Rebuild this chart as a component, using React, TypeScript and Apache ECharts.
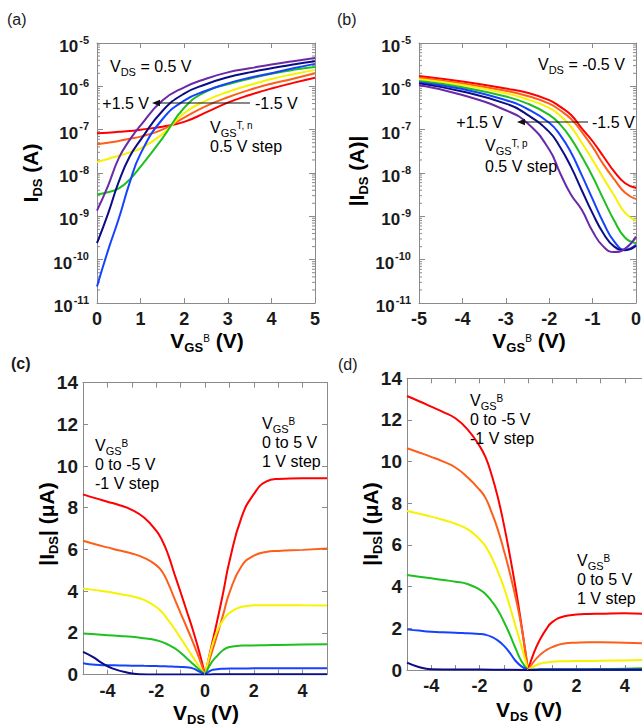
import React, { useEffect, useRef } from 'react';
import * as echarts from 'echarts';

const FONT = '"Liberation Sans", Arial, Helvetica, sans-serif';
const AXIS = '#8a8a8a';
const TXT = '#1a1a1a';
const C = {
  red: '#ff0000',
  orange: '#ff5e1a',
  yellow: '#f6f200',
  green: '#1ec01e',
  blue: '#1442ff',
  navy: '#0c0c86',
  purple: '#6a2aa8',
};

// ---------- panel (a): I_DS vs V_GS^B, V_DS = 0.5 V ----------
const aVgs = [0, 0.25, 0.5, 0.75, 1, 1.5, 2, 2.5, 3, 3.5, 4, 4.5, 5];
const aRed = [8.3e-8, 8.5e-8, 8.9e-8, 9.3e-8, 1.0e-7, 1.17e-7, 1.51e-7, 2.5e-7, 4.2e-7, 6.3e-7, 8.9e-7, 1.2e-6, 1.58e-6];
const aOrange = [4.6e-8, 5.0e-8, 5.5e-8, 6.2e-8, 6.9e-8, 1.0e-7, 1.9e-7, 3.5e-7, 5.6e-7, 8.3e-7, 1.15e-6, 1.5e-6, 2.0e-6];
const aYellow = [1.8e-8, 2.1e-8, 2.5e-8, 3.0e-8, 3.7e-8, 7.9e-8, 2.4e-7, 4.7e-7, 7.4e-7, 1.07e-6, 1.48e-6, 1.9e-6, 2.4e-6];
const aGreen = [3.2e-9, 3.6e-9, 4.4e-9, 7.1e-9, 1.4e-8, 6.3e-8, 3.2e-7, 7.6e-7, 1.12e-6, 1.5e-6, 1.95e-6, 2.4e-6, 2.8e-6];
const aBlue = [2.4e-11, 1.6e-10, 8.9e-10, 6.0e-9, 2.8e-8, 1.74e-7, 4.7e-7, 7.9e-7, 1.17e-6, 1.58e-6, 2.0e-6, 2.6e-6, 3.3e-6];
const aNavy = [2.4e-10, 1.12e-9, 6.3e-9, 2.4e-8, 5.8e-8, 2.7e-7, 6.8e-7, 1.12e-6, 1.62e-6, 2.1e-6, 2.6e-6, 3.2e-6, 3.8e-6];
const aPurple = [1.35e-9, 5.0e-9, 2.2e-8, 5.8e-8, 1.26e-7, 4.7e-7, 9.5e-7, 1.5e-6, 2.1e-6, 2.6e-6, 3.2e-6, 3.8e-6, 4.5e-6];

// ---------- panel (b): |I_DS| vs V_GS^B, V_DS = -0.5 V ----------
const bVgs = [-5, -4, -3, -2.5, -2, -1.75, -1.5, -1.25, -1, -0.75, -0.5, -0.25, 0];
const bRed = [1.74e-6, 1.29e-6, 8.9e-7, 7.1e-7, 4.8e-7, 3.4e-7, 2.2e-7, 1.07e-7, 5.4e-8, 2.4e-8, 1.07e-8, 5.8e-9, 4.5e-9];
const bOrange = [1.58e-6, 1.17e-6, 7.9e-7, 6.0e-7, 4.0e-7, 2.8e-7, 1.78e-7, 8.9e-8, 4.0e-8, 1.58e-8, 7.1e-9, 3.5e-9, 2.5e-9];
const bYellow = [1.45e-6, 1.07e-6, 6.9e-7, 5.0e-7, 3.2e-7, 2.1e-7, 1.17e-7, 5.0e-8, 2.0e-8, 7.6e-9, 3.0e-9, 1.2e-9, 7.9e-10];
const bGreen = [1.32e-6, 9.5e-7, 5.8e-7, 4.0e-7, 2.2e-7, 1.32e-7, 6.3e-8, 2.4e-8, 8.3e-9, 2.5e-9, 7.9e-10, 3.2e-10, 2.4e-10];
const bBlue = [1.23e-6, 8.7e-7, 4.8e-7, 3.0e-7, 1.45e-7, 7.6e-8, 3.0e-8, 8.9e-9, 2.5e-9, 7.1e-10, 2.6e-10, 1.7e-10, 2.2e-10];
const bNavy = [1.17e-6, 7.6e-7, 4.0e-7, 2.2e-7, 8.9e-8, 4.0e-8, 1.4e-8, 4.0e-9, 1.17e-9, 4.0e-10, 2.0e-10, 1.66e-10, 2.1e-10];
const bPurple = [1.07e-6, 6.3e-7, 2.8e-7, 1.41e-7, 3.5e-8, 1.0e-8, 3.2e-9, 1.41e-9, 4.5e-10, 2.0e-10, 1.5e-10, 1.8e-10, 3.4e-10];

// ---------- panel (c): |I_DS| (uA) vs V_DS ----------
const cVleft = [-5, -4.5, -4, -3.5, -3, -2.5, -2, -1.75, -1.5, -1.25, -1, -0.75, -0.5, -0.25, 0];
const cVright = [0, 0.25, 0.5, 0.75, 1, 1.5, 2, 2.5, 3, 4, 5];
const cRedL = [8.64, 8.46, 8.29, 8.12, 7.9, 7.53, 6.9, 6.42, 5.72, 4.82, 3.95, 3.05, 2.15, 1.15, 0];
const cOrangeL = [6.42, 6.25, 6.1, 5.95, 5.81, 5.6, 5.25, 4.93, 4.35, 3.64, 2.95, 2.27, 1.57, 0.82, 0];
const cYellowL = [4.13, 4.05, 3.97, 3.86, 3.76, 3.58, 3.24, 2.97, 2.6, 2.2, 1.75, 1.3, 0.85, 0.4, 0];
const cGreenL = [1.97, 1.93, 1.89, 1.85, 1.81, 1.74, 1.65, 1.56, 1.43, 1.27, 1.05, 0.78, 0.52, 0.26, 0];
const cBlueL = [0.54, 0.47, 0.45, 0.44, 0.43, 0.42, 0.41, 0.4, 0.39, 0.38, 0.37, 0.35, 0.3, 0.16, 0];
const cNavyLV = [-5, -4.6, -4.2, -3.8, -3.2, -2.7, -2, -1, 0];
const cNavyL = [1.09, 0.85, 0.54, 0.3, 0.1, 0.02, 0.01, 0.01, 0];
const cRedR = [0, 1.29, 2.58, 3.96, 5.42, 7.55, 8.65, 9.25, 9.38, 9.42, 9.42];
const cOrangeR = [0, 0.95, 1.9, 2.9, 3.92, 5.21, 5.7, 5.88, 5.93, 5.98, 6.04];
const cYellowR = [0, 1.2, 2.1, 2.62, 2.95, 3.25, 3.32, 3.33, 3.33, 3.32, 3.31];
const cGreenR = [0, 0.55, 0.9, 1.18, 1.32, 1.39, 1.4, 1.41, 1.42, 1.44, 1.46];
const cBlueR = [0, 0.2, 0.26, 0.28, 0.29, 0.29, 0.3, 0.3, 0.3, 0.3, 0.3];
const cNavyR = [0, 0.01, 0.02, 0.02, 0.02, 0.02, 0.02, 0.02, 0.02, 0.02, 0.02];

// ---------- panel (d): |I_DS| (uA) vs V_DS ----------
const dVleft = [-5, -4.5, -4, -3.5, -3, -2.5, -2, -1.75, -1.5, -1.25, -1, -0.75, -0.5, -0.25, 0];
const dVright = [0, 0.25, 0.5, 0.75, 1, 1.5, 2, 2.5, 3, 4, 5];
const dRedL = [13.15, 12.9, 12.64, 12.38, 12.08, 11.55, 10.75, 10.2, 9.35, 8.3, 7.0, 5.5, 3.85, 2.0, 0];
const dOrangeL = [10.64, 10.44, 10.23, 10.0, 9.72, 9.25, 8.65, 8.25, 7.55, 6.75, 5.75, 4.65, 3.42, 1.95, 0];
const dYellowL = [7.63, 7.5, 7.36, 7.2, 7.02, 6.76, 6.28, 5.93, 5.4, 4.75, 3.97, 3.05, 2.05, 1.05, 0];
const dGreenL = [4.56, 4.48, 4.4, 4.32, 4.24, 4.13, 3.86, 3.64, 3.3, 2.88, 2.33, 1.7, 1.0, 0.38, 0];
const dBlueL = [1.95, 1.89, 1.84, 1.81, 1.79, 1.76, 1.73, 1.69, 1.59, 1.42, 1.17, 0.82, 0.42, 0.16, 0];
const dNavyLV = [-5, -4.55, -4, -3, -2, -1, 0];
const dNavyL = [0.35, 0.16, 0.04, 0.02, 0.02, 0.01, 0];
const dRedR = [0, 0.85, 1.47, 1.95, 2.3, 2.58, 2.66, 2.69, 2.7, 2.72, 2.68];
const dOrangeR = [0, 0.42, 0.73, 0.95, 1.1, 1.27, 1.31, 1.33, 1.33, 1.31, 1.28];
const dYellowR = [0, 0.18, 0.3, 0.36, 0.4, 0.42, 0.43, 0.43, 0.44, 0.46, 0.48];
const dGreenR = [0, 0.02, 0.03, 0.03, 0.03, 0.04, 0.04, 0.04, 0.05, 0.06, 0.1];
const dBlueR = [0, 0.01, 0.02, 0.02, 0.02, 0.02, 0.02, 0.02, 0.02, 0.02, 0.02];
const dNavyR = [0, 0, 0.01, 0.01, 0.01, 0.01, 0.01, 0.01, 0.01, 0.01, 0.01];

// minor tick positions on the log axes (2..9 x 10^n)
const logDecades = [-11, -10, -9, -8, -7, -6];
const logMultipliers = [2, 3, 4, 5, 6, 7, 8, 9];

const pair = (xs: number[], ys: number[]) => xs.map((x, i) => [x, ys[i]]);

function line(name: string, color: string, xs: number[], ys: number[], gi: number) {
  return {
    type: 'line',
    name,
    xAxisIndex: gi * 2,
    yAxisIndex: gi * 2,
    data: pair(xs, ys),
    showSymbol: false,
    smooth: 0.5,
    lineStyle: { color, width: 2 },
    itemStyle: { color },
    z: 3,
  };
}

const tickLabel = { fontFamily: FONT, fontWeight: 'bold' as const, fontSize: 18, color: TXT };

function xAxes(gi: number, min: number, max: number, fmt?: (v: number) => string) {
  const common = {
    type: 'value',
    gridIndex: gi,
    min,
    max,
    interval: 1,
    axisLine: { show: true, onZero: false, lineStyle: { color: AXIS, width: 1 } },
    axisTick: { show: true, inside: true, length: 5, lineStyle: { color: AXIS } },
    splitLine: { show: false },
  };
  return [
    { ...common, position: 'bottom', axisLabel: { ...tickLabel, margin: 7, formatter: fmt || ((v: number) => String(v)) } },
    { ...common, position: 'top', axisLabel: { show: false } },
  ];
}

const logRich = {
  t: { fontFamily: FONT, fontWeight: 'bold', fontSize: 17, color: TXT, lineHeight: 18, padding: [4, 0, 4, 0], verticalAlign: 'top' },
  s: { fontFamily: FONT, fontWeight: 'bold', fontSize: 11, color: TXT, lineHeight: 11, padding: [0, 0, 0, 1], verticalAlign: 'top' },
};

function logYAxes(gi: number) {
  const common = {
    type: 'log',
    logBase: 10,
    gridIndex: gi,
    min: 1e-11,
    max: 1e-5,
    axisLine: { show: true, onZero: false, lineStyle: { color: AXIS, width: 1 } },
    axisTick: { show: true, inside: true, length: 6, lineStyle: { color: AXIS } },
    splitLine: { show: false },
  };
  return [
    {
      ...common,
      position: 'left',
      axisLabel: {
        margin: 8,
        formatter: (v: number) => `{t|10}{s|${Math.round(Math.log10(v))}}`,
        rich: logRich,
      },
    },
    { ...common, position: 'right', axisLabel: { show: false } },
  ];
}

function linYAxes(gi: number) {
  const common = {
    type: 'value',
    gridIndex: gi,
    min: 0,
    max: 14,
    interval: 2,
    axisLine: { show: true, onZero: false, lineStyle: { color: AXIS, width: 1 } },
    axisTick: { show: true, inside: true, length: 5, lineStyle: { color: AXIS } },
    splitLine: { show: false },
  };
  return [
    { ...common, position: 'left', axisLabel: { ...tickLabel, fontSize: 19, margin: 5 } },
    { ...common, position: 'right', axisLabel: { show: false } },
  ];
}

function minorTicks(gi: number, xVal: number) {
  const vals: number[][] = [];
  logDecades.forEach((e) => logMultipliers.forEach((m) => vals.push([xVal, m * Math.pow(10, e)])));
  return {
    type: 'custom',
    xAxisIndex: gi * 2,
    yAxisIndex: gi * 2,
    silent: true,
    clip: false,
    z: 2,
    data: vals,
    renderItem: (params: any, api: any) => {
      const cs = params.coordSys;
      const y = api.coord([xVal, api.value(1)])[1];
      return {
        type: 'group',
        children: [
          { type: 'line', shape: { x1: cs.x, y1: y, x2: cs.x + 3, y2: y }, style: { stroke: AXIS, lineWidth: 1 } },
          { type: 'line', shape: { x1: cs.x + cs.width - 3, y1: y, x2: cs.x + cs.width, y2: y }, style: { stroke: AXIS, lineWidth: 1 } },
        ],
      };
    },
  };
}

// rich styles for annotations and titles
const annRich = {
  n: { fontFamily: FONT, fontSize: 16, color: TXT, lineHeight: 16, verticalAlign: 'top' },
  sub: { fontFamily: FONT, fontSize: 11, color: TXT, lineHeight: 11, padding: [8, 0, 0, 0], verticalAlign: 'top' },
  sup: { fontFamily: FONT, fontSize: 10, color: TXT, lineHeight: 10, padding: [1, 0, 0, 0], verticalAlign: 'top' },
};
const titleRich = {
  B: { fontFamily: FONT, fontWeight: 'bold', fontSize: 21, color: TXT, lineHeight: 22, verticalAlign: 'top' },
  BS: { fontFamily: FONT, fontWeight: 'bold', fontSize: 13, color: TXT, lineHeight: 13, padding: [11, 0, 0, 0], verticalAlign: 'top' },
  BB: { fontFamily: FONT, fontSize: 10, color: TXT, lineHeight: 10, padding: [3, 0, 0, 0], verticalAlign: 'top' },
};

function ann(text: string, x: number, y: number, align = 'left') {
  return { type: 'text', x, y, z: 10, style: { text, rich: annRich, align, verticalAlign: 'middle' } };
}
function title(text: string, x: number, y: number, rotate = false) {
  return {
    type: 'text',
    x,
    y,
    rotation: rotate ? Math.PI / 2 : 0,
    z: 10,
    style: { text, rich: titleRich, align: 'center', verticalAlign: 'middle' },
  };
}
function panelLabel(text: string, x: number, y: number, bold = false) {
  return {
    type: 'text',
    x,
    y,
    z: 10,
    style: { text, fontFamily: FONT, fontSize: 16, fontWeight: bold ? 'bold' : 'normal', fill: TXT, align: 'left', verticalAlign: 'middle' },
  };
}
function arrow(xTip: number, xEnd: number, y: number) {
  return [
    { type: 'line', z: 10, shape: { x1: xTip + 6, y1: y, x2: xEnd, y2: y }, style: { stroke: '#111', lineWidth: 1.2 } },
    { type: 'polygon', z: 10, shape: { points: [[xTip, y], [xTip + 8, y - 3.2], [xTip + 8, y + 3.2]] }, style: { fill: '#111' } },
  ];
}

const grids = [
  { left: 97, top: 43, width: 218, height: 260 },
  { left: 419, top: 43, width: 217, height: 260 },
  { left: 83, top: 382.6, width: 244, height: 292 },
  { left: 407, top: 378.3, width: 242, height: 291.7 },
];

const evenOnly = (v: number) => (Math.round(v) % 2 === 0 ? String(v) : '');

const option: any = {
  animation: false,
  backgroundColor: '#ffffff',
  grid: grids.map((g) => ({ ...g, show: false, containLabel: false })),
  xAxis: [
    ...xAxes(0, 0, 5),
    ...xAxes(1, -5, 0),
    ...xAxes(2, -5, 5, evenOnly),
    ...xAxes(3, -5, 5, evenOnly),
  ],
  yAxis: [...logYAxes(0), ...logYAxes(1), ...linYAxes(2), ...linYAxes(3)],
  series: [
    minorTicks(0, 0),
    minorTicks(1, -5),
    line('-1.5 V', C.red, aVgs, aRed, 0),
    line('-1.0 V', C.orange, aVgs, aOrange, 0),
    line('-0.5 V', C.yellow, aVgs, aYellow, 0),
    line('0 V', C.green, aVgs, aGreen, 0),
    line('+0.5 V', C.blue, aVgs, aBlue, 0),
    line('+1.0 V', C.navy, aVgs, aNavy, 0),
    line('+1.5 V', C.purple, aVgs, aPurple, 0),
    line('-1.5 V', C.red, bVgs, bRed, 1),
    line('-1.0 V', C.orange, bVgs, bOrange, 1),
    line('-0.5 V', C.yellow, bVgs, bYellow, 1),
    line('0 V', C.green, bVgs, bGreen, 1),
    line('+0.5 V', C.blue, bVgs, bBlue, 1),
    line('+1.0 V', C.navy, bVgs, bNavy, 1),
    line('+1.5 V', C.purple, bVgs, bPurple, 1),
    line('c red L', C.red, cVleft, cRedL, 2),
    line('c orange L', C.orange, cVleft, cOrangeL, 2),
    line('c yellow L', C.yellow, cVleft, cYellowL, 2),
    line('c green L', C.green, cVleft, cGreenL, 2),
    line('c blue L', C.blue, cVleft, cBlueL, 2),
    line('c navy L', C.navy, cNavyLV, cNavyL, 2),
    line('c red R', C.red, cVright, cRedR, 2),
    line('c orange R', C.orange, cVright, cOrangeR, 2),
    line('c yellow R', C.yellow, cVright, cYellowR, 2),
    line('c green R', C.green, cVright, cGreenR, 2),
    line('c blue R', C.blue, cVright, cBlueR, 2),
    line('c navy R', C.navy, cVright, cNavyR, 2),
    line('d red L', C.red, dVleft, dRedL, 3),
    line('d orange L', C.orange, dVleft, dOrangeL, 3),
    line('d yellow L', C.yellow, dVleft, dYellowL, 3),
    line('d green L', C.green, dVleft, dGreenL, 3),
    line('d blue L', C.blue, dVleft, dBlueL, 3),
    line('d navy L', C.navy, dNavyLV, dNavyL, 3),
    line('d red R', C.red, dVright, dRedR, 3),
    line('d orange R', C.orange, dVright, dOrangeR, 3),
    line('d yellow R', C.yellow, dVright, dYellowR, 3),
    line('d green R', C.green, dVright, dGreenR, 3),
    line('d blue R', C.blue, dVright, dBlueR, 3),
    line('d navy R', C.navy, dVright, dNavyR, 3),
  ],
  graphic: [
    panelLabel('(a)', 7, 19),
    panelLabel('(b)', 337, 19),
    panelLabel('(c)', 11, 363, true),
    panelLabel('(d)', 338, 364),
    // axis titles
    title('{B|I}{BS|DS}{B| (A)}', 31, 173, true),
    title('{B|V}{BS|GS}{BB|B}{B| (V)}', 207, 341),
    title('{B||I}{BS|DS}{B| (A)|}', 357, 171, true),
    title('{B|V}{BS|GS}{BB|B}{B| (V)}', 529, 341),
    title('{B||I}{BS|DS}{B|| (μA)}', 47, 524, true),
    title('{B|V}{BS|DS}{B| (V)}', 206, 713),
    title('{B||I}{BS|DS}{B|| (μA)}', 371, 524, true),
    title('{B|V}{BS|DS}{B| (V)}', 529, 710),
    // panel (a) annotations
    ann('{n|V}{sub|DS}{n| = 0.5 V}', 110, 66),
    ann('{n|+1.5 V}', 149, 103, 'right'),
    ...arrow(152, 250, 103),
    ann('{n|-1.5 V}', 255, 103),
    ann('{n|V}{sub|GS}{sup|T, n}', 210, 127),
    ann('{n|0.5 V step}', 210, 146),
    // panel (b) annotations
    ann('{n|V}{sub|DS}{n| = -0.5 V}', 538, 64),
    ann('{n|+1.5 V}', 503, 122, 'right'),
    ...arrow(517, 588, 122),
    ann('{n|-1.5 V}', 592, 122),
    ann('{n|V}{sub|GS}{sup|T, p}', 485, 145),
    ann('{n|0.5 V step}', 485, 166),
    // panel (c) annotations
    ann('{n|V}{sub|GS}{sup|B}', 95, 445),
    ann('{n|0 to -5 V}', 95, 464),
    ann('{n|-1 V step}', 95, 483),
    ann('{n|V}{sub|GS}{sup|B}', 262, 423),
    ann('{n|0 to 5 V}', 262, 442),
    ann('{n|1 V step}', 262, 461),
    // panel (d) annotations
    ann('{n|V}{sub|GS}{sup|B}', 470, 400),
    ann('{n|0 to -5 V}', 470, 419),
    ann('{n|-1 V step}', 470, 438),
    ann('{n|V}{sub|GS}{sup|B}', 577, 560),
    ann('{n|0 to 5 V}', 577, 579),
    ann('{n|1 V step}', 577, 598),
  ],
};

export default function App() {
  const ref = useRef<HTMLDivElement>(null);
  useEffect(() => {
    if (!ref.current) return;
    const chart = echarts.init(ref.current, null, { renderer: 'svg' });
    chart.setOption(option);
    return () => chart.dispose();
  }, []);
  return (
    <div style={{ position: 'absolute', left: 0, top: 0, width: 642, height: 726, overflow: 'hidden', background: '#fff' }}>
      <div ref={ref} style={{ width: 660, height: 726 }} />
    </div>
  );
}
